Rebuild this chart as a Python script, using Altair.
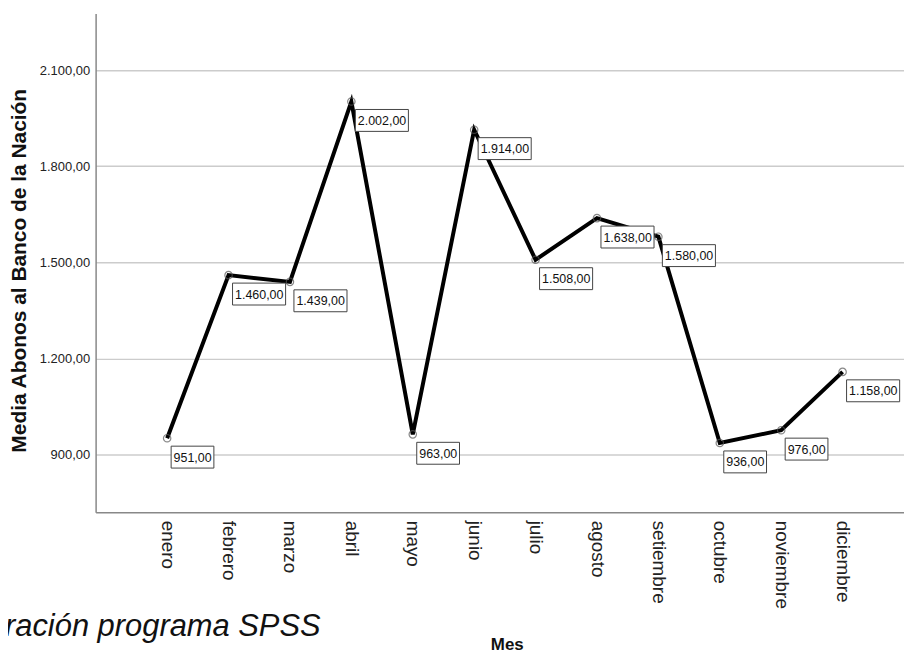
import altair as alt
import pandas as pd

meses = ["enero", "febrero", "marzo", "abril", "mayo", "junio", "julio",
         "agosto", "setiembre", "octubre", "noviembre", "diciembre"]
valores = [951, 1460, 1439, 2002, 963, 1914, 1508, 1638, 1580, 936, 976, 1158]
y_ticks = [900, 1200, 1500, 1800, 2100]
titulo_y = "Media Abonos al Banco de la Nación"
titulo_x = "Mes"
pie = "Elaboración programa SPSS"

df = pd.DataFrame({"idx": list(range(len(meses))), "mes": meses, "valor": valores})

W, H = 812, 501
XDOM = [-1.165, 12.0]
YDOM = [720, 2277]
ux = (XDOM[1] - XDOM[0]) / W
uy = (YDOM[1] - YDOM[0]) / H

FONT = "Liberation Sans"
es_fmt = "replace(replace(replace(format({v}, ',.2f'), ',', '_'), '.', ','), '_', '.')"
mes_arr = "[" + ",".join('"%s"' % m for m in meses) + "]"

xs = alt.Scale(domain=XDOM, nice=False, zero=False)
ys = alt.Scale(domain=YDOM, nice=False, zero=False)

base = alt.Chart(df).transform_calculate(
    lbl=es_fmt.format(v="datum.valor"),
    np="datum.valor >= 1000 ? 2 : 1",
).transform_calculate(
    w="(length(datum.lbl) - datum.np) * 6.9 + datum.np * 3.45 + 5",
).transform_calculate(
    bx1=f"datum.idx + 4 * {ux}",
    bx2=f"datum.idx + (4 + datum.w) * {ux}",
    by1=f"datum.valor - 8 * {uy}",
    by2=f"datum.valor - 30 * {uy}",
)

xaxis = alt.Axis(
    values=list(range(len(meses))),
    labelExpr=f"{mes_arr}[datum.value]",
    labelAngle=90, labelFontSize=19, labelFont=FONT, labelColor="#222",
    labelPadding=8, ticks=False, grid=False,
    domainColor="#888", domainWidth=1.5,
    title=titulo_x, titleFont=FONT, titleFontSize=17, titleFontWeight="bold",
    titleColor="#111", titleX=413, titleY=138, titleBaseline="alphabetic",
    titleAlign="center",
)
yaxis = alt.Axis(
    values=y_ticks,
    labelExpr=es_fmt.format(v="datum.value"),
    labelFontSize=13, labelFont=FONT, labelColor="#222", labelPadding=6,
    ticks=False, grid=True, gridColor="#cccccc", gridWidth=1.5,
    domainColor="#888", domainWidth=1.5,
    title=titulo_y, titleFont=FONT, titleFontSize=21, titleFontWeight="bold",
    titleColor="#111", titleX=-76, titleY=258, titleAngle=-90,
    titleAlign="center", titleBaseline="middle",
)

line = base.mark_line(color="black", strokeWidth=4).encode(
    x=alt.X("idx:Q", scale=xs, axis=xaxis),
    y=alt.Y("valor:Q", scale=ys, axis=yaxis),
)
pts = base.mark_point(shape="circle", size=55, filled=False, color="#555",
                      strokeWidth=1.2).encode(
    x=alt.X("idx:Q", scale=xs),
    y=alt.Y("valor:Q", scale=ys),
)
boxes = base.mark_rect(fill="white", stroke="#444", strokeWidth=1).encode(
    x=alt.X("bx1:Q", scale=xs),
    x2="bx2:Q",
    y=alt.Y("by1:Q", scale=ys),
    y2="by2:Q",
)
texts = base.mark_text(align="left", baseline="middle", dx=6.5, dy=19.5,
                       font=FONT, fontSize=12.5, color="#111").encode(
    x=alt.X("idx:Q", scale=xs),
    y=alt.Y("valor:Q", scale=ys),
    text="lbl:N",
)
cap = alt.Chart(pd.DataFrame({"t": [pie]})).mark_text(
    align="right", baseline="alphabetic", font=FONT, fontSize=31,
    fontStyle="italic", color="#111",
).encode(x=alt.value(226), y=alt.value(625), text="t:N")

chart = alt.layer(line, pts, boxes, texts, cap).properties(
    width=W, height=H,
    autosize=alt.AutoSizeParams(type="none"),
    padding={"left": 88, "top": 4, "right": 0, "bottom": 143},
).configure_view(stroke="transparent")

chart.save("out.html", embed_options={"renderer": "svg", "actions": False})
